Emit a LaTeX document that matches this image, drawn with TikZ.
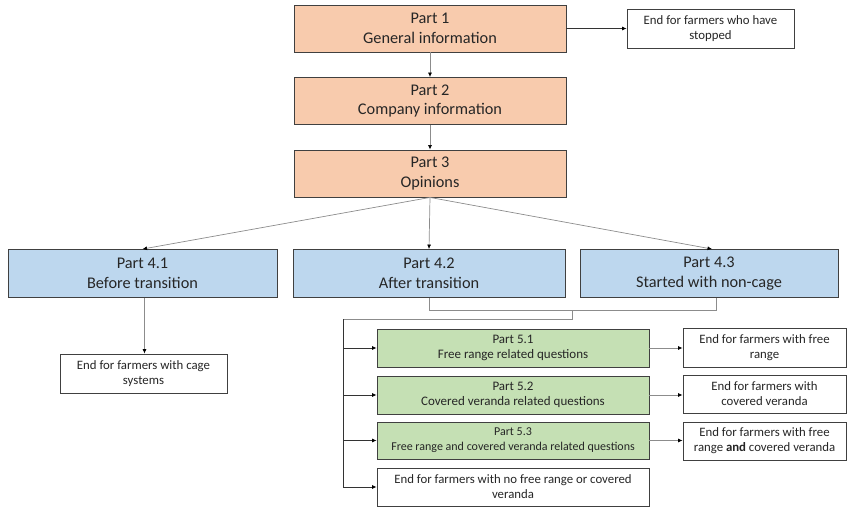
\documentclass[tikz,border=0pt]{standalone}
\usepackage{fontspec}
\setmainfont{Carlito}
\usetikzlibrary{arrows.meta}
\definecolor{orangebox}{HTML}{F8CBAD}
\definecolor{bluebox}{HTML}{BDD7EE}
\definecolor{greenbox}{HTML}{C5E0B4}
\definecolor{edge}{HTML}{404040}
\definecolor{conn}{HTML}{8C8C8C}
\tikzset{
  box/.style={draw=edge, line width=0.9pt, align=center, inner sep=0pt, text=black!85},
  bigbox/.style={box, font=\fontsize{16.3}{19.5}\selectfont},
  greenfont/.style={font=\fontsize{13}{15.2}\selectfont},
  endfont/.style={font=\fontsize{12.8}{15.2}\selectfont},
  orange/.style={bigbox, fill=orangebox, minimum width=272pt, minimum height=47pt},
  blue/.style={bigbox, fill=bluebox, minimum height=48pt},
  green/.style={box, greenfont, fill=greenbox, minimum width=272pt, minimum height=38pt},
  endbox/.style={box, endfont, fill=white, minimum height=39pt},
  conn/.style={draw=conn, line width=0.7pt},
  arr/.style={conn, -{Latex[length=4.5pt,width=4pt,color=black]}},
  darkarr/.style={draw=black!80, line width=0.7pt, -{Latex[length=4.5pt,width=4pt,color=black]}}
}
\begin{document}
\begin{tikzpicture}[x=1pt,y=-1pt]
\useasboundingbox (0,0) rectangle (847,508);
\node[orange] (p1) at (430,28.5) {Part 1\\General information};
\node[orange] (p2) at (430,101) {Part 2\\Company information};
\node[orange] (p3) at (430,173.5) {Part 3\\Opinions};
\node[endbox, minimum width=167pt] (stop) at (710.5,28.5) {End for farmers who have\\stopped};
\node[blue, minimum width=269pt] (p41) at (142.5,273.5) {Part 4.1\\Before transition};
\node[blue, minimum width=272pt] (p42) at (429,273.5) {Part 4.2\\After transition};
\node[blue, minimum width=258pt] (p43) at (709,273.5) {Part 4.3\\Started with non-cage};
\node[endbox, minimum width=167pt] (cage) at (143.5,373.5) {End for farmers with cage\\systems};
\node[green] (p51) at (513,348) {Part 5.1\\Free range related questions};
\node[green] (p52) at (513,395) {Part 5.2\\Covered veranda related questions};
\node[green, minimum height=37pt, font=\fontsize{12}{15.2}\selectfont] (p53) at (513,440.5) {Part 5.3\\Free range and covered veranda related questions};
\node[endbox, minimum width=272pt, minimum height=38pt] (none) at (513,487) {End for farmers with no free range or covered\\veranda};
\node[endbox, minimum width=163pt] (e51) at (764.5,347.5) {End for farmers with free\\range};
\node[endbox, minimum width=163pt, minimum height=38pt] (e52) at (764.5,394) {End for farmers with\\covered veranda};
\node[endbox, minimum width=163pt, minimum height=38pt] (e53) at (764.5,441) {End for farmers with free\\range \textbf{and} covered veranda};
\coordinate (j) at (572,310);
\coordinate (k) at (343,319);
\draw[arr] (p1) -- (p2);
\draw[arr] (p2) -- (p3);
\draw[darkarr] (p1.east) -- (stop.west);
\draw[arr] (p3.south) -- (p41.north);
\draw[arr] (p3.south) -- (p42.north);
\draw[arr] (p3.south) -- ([xshift=3pt]p43.north);
\draw[arr] ([xshift=2pt]p41.south) -- ([xshift=2pt]p41.south |- cage.north);
\draw[conn] (p42.south) -- (p42.south |- j) -- ([xshift=7pt]p43.south |- j) -- ([xshift=7pt]p43.south);
\draw[conn] (j) -- (j |- k) -- (k);
\draw[draw=black!80, line width=0.7pt] (k) -- (k |- none.west);
\draw[darkarr] (k |- p51.west) -- (p51.west);
\draw[darkarr] (k |- p52.west) -- (p52.west);
\draw[darkarr] (k |- p53.west) -- (p53.west);
\draw[darkarr] (k |- none.west) -- (none.west);
\draw[arr] (p51.east) -- (e51.west |- p51.east);
\draw[arr] (p52.east) -- (e52.west |- p52.east);
\draw[arr] (p53.east) -- (e53.west |- p53.east);
\end{tikzpicture}
\end{document}
